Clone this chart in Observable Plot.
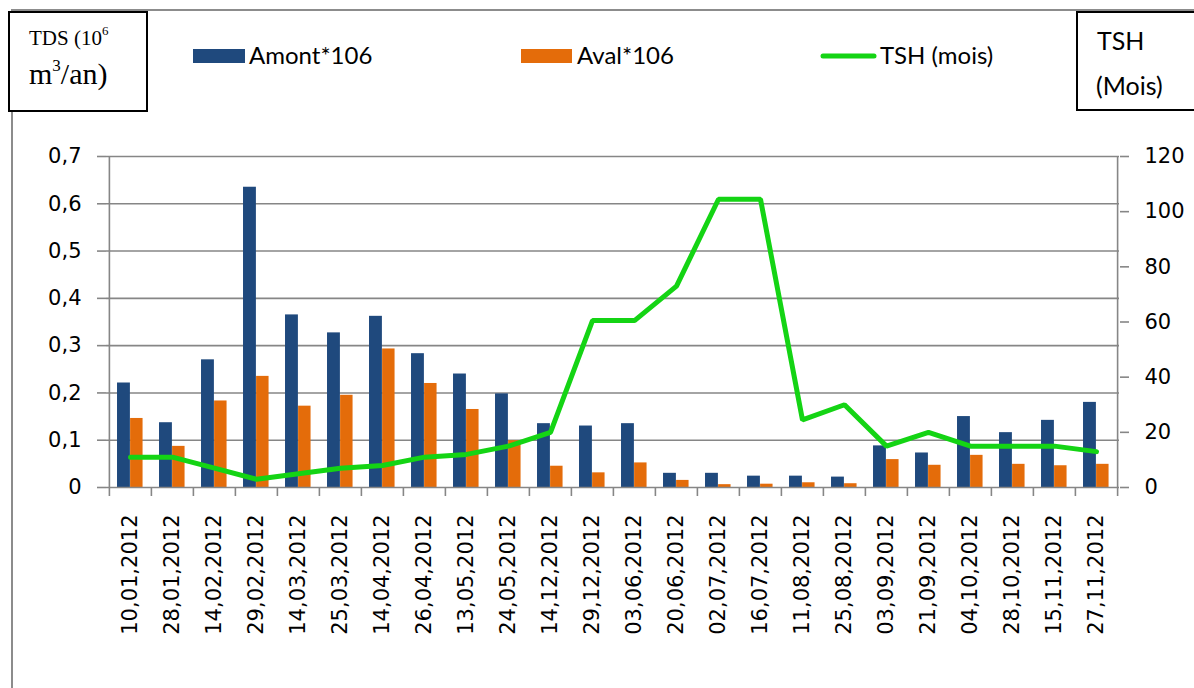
<!DOCTYPE html>
<html><head><meta charset="utf-8">
<script src="https://cdn.jsdelivr.net/npm/d3@7"></script>
<script src="https://cdn.jsdelivr.net/npm/@observablehq/plot@0.6"></script>
<style>
body{margin:0;background:#fff;}
#wrap{position:relative;width:1194px;height:688px;overflow:hidden;background:#fff;}
#frame{position:absolute;left:11px;top:9px;width:1300px;height:800px;border-top:2px solid #8c8c8c;border-left:2px solid #8c8c8c;z-index:0;}
#header,#chart{position:relative;z-index:1;}
#header svg,#chart svg{display:block;}
</style>
</head><body>
<div id="wrap">
<div id="frame"></div>
<div id="header"></div>
<div id="chart"></div>
</div>
<script>
const dates = ["10,01,2012","28,01,2012","14,02,2012","29,02,2012","14,03,2012","25,03,2012","14,04,2012","26,04,2012","13,05,2012","24,05,2012","14,12,2012","29,12,2012","03,06,2012","20,06,2012","02,07,2012","16,07,2012","11,08,2012","25,08,2012","03,09,2012","21,09,2012","04,10,2012","28,10,2012","15,11,2012","27,11,2012"];
const amont = [0.221,0.137,0.270,0.635,0.365,0.327,0.362,0.283,0.240,0.198,0.135,0.130,0.135,0.030,0.030,0.024,0.024,0.022,0.088,0.073,0.150,0.116,0.142,0.180];
const aval = [0.146,0.087,0.183,0.235,0.172,0.195,0.293,0.220,0.165,0.099,0.045,0.031,0.052,0.015,0.006,0.007,0.010,0.008,0.059,0.047,0.068,0.049,0.046,0.049];
const tsh = [11,11,7,3,5,7,8,11,12,15,20,60.5,60.5,73,104.5,104.5,24.5,30,15,20,15,15,15,13];
const leftTicks = [0,0.1,0.2,0.3,0.4,0.5,0.6,0.7];
const rightTicks = [0,20,40,60,80,100,120];
const seriesNames = ["Amont*106","Aval*106","TSH (mois)"];
const colors = ["#1f497d","#e46c0a","#14d414"];

const Y_MAX = 0.7, R_MAX = 120;
const rows = dates.map((d,i)=>({date:d, amont:amont[i], aval:aval[i], tsh:tsh[i]}));

// header (legend + axis title boxes)
const hdr = d3.select("#header").append("svg").attr("width",1194).attr("height",140);
hdr.append("rect").attr("x",9).attr("y",12).attr("width",138).attr("height",99).attr("fill","#fff").attr("stroke","#000").attr("stroke-width",2);
const t1 = hdr.append("text").attr("x",29).attr("y",45).attr("font-family","Liberation Serif").attr("font-size",21).attr("fill","#000");
t1.append("tspan").text("TDS (10");
t1.append("tspan").attr("font-size",13).attr("dy",-10).text("6");
const t2 = hdr.append("text").attr("x",29).attr("y",84).attr("font-family","Liberation Serif").attr("font-size",30).attr("fill","#000");
t2.append("tspan").text("m");
t2.append("tspan").attr("font-size",17).attr("dy",-13).text("3");
t2.append("tspan").attr("dy",13).text("/an)");
hdr.append("rect").attr("x",1077).attr("y",12).attr("width",140).attr("height",98).attr("fill","#fff").attr("stroke","#000").attr("stroke-width",2);
hdr.append("text").attr("x",1097).attr("y",50).attr("font-family","Lato").attr("font-size",25).attr("fill","#000").text("TSH");
hdr.append("text").attr("x",1096).attr("y",95).attr("font-family","Lato").attr("font-size",25).attr("fill","#000").text("(Mois)");
const legFont = {family:"Lato", size:24};
hdr.append("rect").attr("x",193).attr("y",49).attr("width",52).attr("height",14).attr("fill",colors[0]);
hdr.append("text").attr("x",249).attr("y",64).attr("font-family",legFont.family).attr("font-size",legFont.size).attr("fill","#000").text(seriesNames[0]);
hdr.append("rect").attr("x",521).attr("y",49).attr("width",51).attr("height",14).attr("fill",colors[1]);
hdr.append("text").attr("x",577).attr("y",64).attr("font-family",legFont.family).attr("font-size",legFont.size).attr("fill","#000").text(seriesNames[1]);
hdr.append("line").attr("x1",823).attr("x2",874).attr("y1",56).attr("y2",56).attr("stroke",colors[2]).attr("stroke-width",5).attr("stroke-linecap","round");
hdr.append("text").attr("x",880).attr("y",64).attr("font-family",legFont.family).attr("font-size",legFont.size).attr("fill","#000").text(seriesNames[2]);

// chart
const W = 1194, H = 548, mt = 16, mb = 201, ml = 106, mr = 75;
const bw = (W - ml - mr) / dates.length;
const grid = "#868686";
const last = dates[dates.length-1];

const chart = Plot.plot({
  width: W, height: H,
  marginTop: mt, marginBottom: mb, marginLeft: ml, marginRight: mr,
  style: {fontFamily: "DejaVu Sans", fontSize: "21px", color: "#000", background: "transparent", overflow: "visible"},
  x: {domain: dates, padding: 0, axis: null, label: null},
  y: {domain: [0, Y_MAX], axis: null, label: null},
  marks: [
    Plot.ruleY(leftTicks.slice(1), {stroke: grid, strokeWidth: 1.6}),
    Plot.barY(rows, {x: "date", y: "amont", fill: colors[0], insetLeft: bw*0.19, insetRight: bw*0.5}),
    Plot.barY(rows, {x: "date", y: "aval", fill: colors[1], insetLeft: bw*0.5, insetRight: bw*0.2}),
    Plot.ruleY([0], {stroke: grid, strokeWidth: 1.6}),
    Plot.ruleX(dates, {x: d => d, dx: -bw/2, y1: 0, y2: 0, insetBottom: -9, stroke: grid, strokeWidth: 1.6}),
    Plot.ruleX([last], {x: d => d, dx: bw/2, y1: 0, y2: 0, insetBottom: -9, stroke: grid, strokeWidth: 1.6}),
    Plot.ruleX([dates[0]], {x: d => d, dx: -bw/2, y1: 0, y2: Y_MAX, stroke: grid, strokeWidth: 1.6}),
    Plot.ruleX([last], {x: d => d, dx: bw/2, y1: 0, y2: Y_MAX, stroke: grid, strokeWidth: 1.6}),
    Plot.line(rows, {x: "date", y: d => d.tsh * Y_MAX / R_MAX, stroke: colors[2], strokeWidth: 5, strokeLinejoin: "miter", strokeLinecap: "round"}),
    Plot.axisY({anchor: "left", ticks: leftTicks, tickSize: 9, tickPadding: 16, stroke: grid, strokeWidth: 1.6, label: null,
      tickFormat: d => d === 0 ? "0" : d.toFixed(1).replace(".", ",")}),
    Plot.axisY({anchor: "right", ticks: rightTicks.map(t => t * Y_MAX / R_MAX), tickSize: 9, tickPadding: 16, stroke: grid, strokeWidth: 1.6, label: null,
      tickFormat: d => String(Math.round(d * R_MAX / Y_MAX))}),
    Plot.axisX({anchor: "bottom", tickSize: 0, tickPadding: 27, tickRotate: -90, label: null})
  ]
});
document.getElementById("chart").appendChild(chart);
</script>
</body></html>
